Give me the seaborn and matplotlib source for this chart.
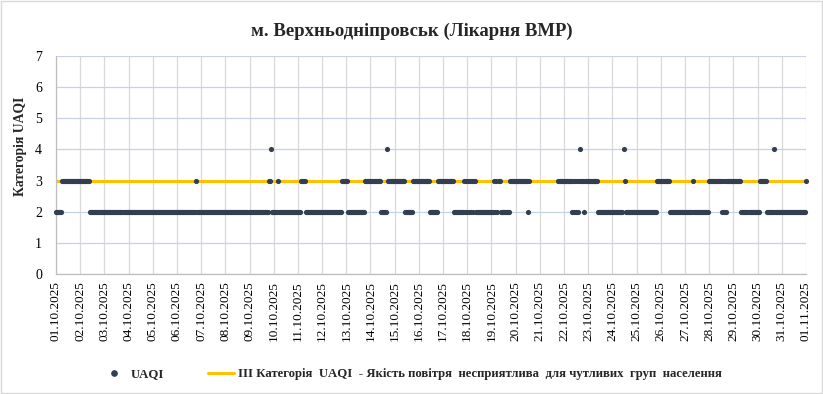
import numpy as np
import pandas as pd
import matplotlib.pyplot as plt
import matplotlib.dates as mdates
import seaborn as sns
from matplotlib.lines import Line2D
from matplotlib.patches import Rectangle

STATION = "м. Верхньодніпровськ (Лікарня ВМР)"
START = "2025-10-01 00:00"
Y_LABEL = "Категорія UAQI"
POINT_LABEL = "UAQI"
LINE_LABEL = "ІІІ Категорія  UAQI  - Якість повітря  несприятлива  для чутливих  груп  населення"

# hourly UAQI category, one string per day (00..23 h), "-" = no data
uaqi_days = [
    "222222333333333333333333",  # 01.10
    "333333333322222222222222",
    "222222222222222222222222",
    "222222222222222222222222",
    "222222222222222222222222",
    "222222222222222222232222",
    "222222222222222222222222",
    "222222222222222222222222",
    "222222222222222222233422",
    "222232222222222222222222",
    "222333332222222222222222",  # 11.10
    "222222222222222222223333",
    "332222222222222222233333",
    "333333333322222243333333",
    "333333333322222222333333",
    "333333333332222222233333",
    "333333333332222222222323",
    "232323233222222222222222",
    "222323233222222222333333",
    "33333333333323----------",
    "------------------333333",  # 21.10
    "333333332323232343332333",
    "333333333322222222222222",
    "222222222224322222222222",
    "222222222222222222223333",
    "333333333222222222222222",
    "222222223222222222222222",
    "333333333333323232333333",
    "333333332222222222222222",
    "223333333222222242222222",
    "222222222222222222222222",  # 31.10
    "3",                         # 01.11 00:00
]
category_iii = 3
y_range = (0, 7)

values = [np.nan if c == "-" else int(c) for c in "".join(uaqi_days)]
df = pd.DataFrame({
    "time": pd.date_range(START, periods=len(values), freq="h"),
    "uaqi": values,
})

sns.set_theme(style="white")
plt.rcParams["font.family"] = ["Liberation Serif", "DejaVu Serif"]

fig = plt.figure(figsize=(8.23, 3.94), dpi=100)
ax = fig.add_axes([0.068, 0.304, 0.9113, 0.554])

ax.axhline(category_iii, color="#FFC000", lw=2.2, zorder=2)
pts = df.dropna()
sns.scatterplot(data=pts, x="time", y="uaqi", ax=ax, color="#333F50",
                s=14, linewidth=0, zorder=3, clip_on=False, legend=False)

ax.set_xlim(df["time"].min(), df["time"].max())
ax.set_ylim(*y_range)
ax.set_yticks(range(y_range[0], y_range[1] + 1))
ax.xaxis.set_major_locator(mdates.DayLocator())
ax.xaxis.set_major_formatter(mdates.DateFormatter("%d.%m.%Y"))

ax.xaxis.grid(True, color="#D9D9D9", lw=0.9)
ax.yaxis.grid(True, color="#C5D2E8", lw=0.9)
ax.set_axisbelow(True)
for side in ["top", "right"]:
    ax.spines[side].set_visible(False)
for side in ["left", "bottom"]:
    ax.spines[side].set_color("#BFBFBF")
    ax.spines[side].set_linewidth(0.9)

ax.tick_params(axis="x", length=0, pad=5, labelsize=9.5, rotation=90, colors="black")
ax.tick_params(axis="y", length=0, pad=10, labelsize=10, colors="black")
ax.set_xlabel("")
ax.set_ylabel(Y_LABEL, fontsize=9.8, fontweight="bold")
ax.yaxis.set_label_coords(-0.039, 0.588)

fig.text(0.5, 0.921, STATION, ha="center", va="center",
         fontsize=13.5, fontweight="bold")

handles = [
    Line2D([], [], ls="", marker="o", ms=3.8, color="#333F50"),
    Line2D([], [], color="#FFC000", lw=2.2),
]
fig.legend(handles, [POINT_LABEL, LINE_LABEL], loc="center",
           bbox_to_anchor=(0.5, 0.05), ncol=2, frameon=False,
           prop={"weight": "bold", "size": 9.2}, handlelength=2.05,
           handletextpad=0.3, columnspacing=3.4)

fig.patches.append(Rectangle((0.001, 0.002), 0.998, 0.996, transform=fig.transFigure,
                             fill=False, edgecolor="#D9D9D9", lw=1))

fig.savefig("out.png", dpi=100)
